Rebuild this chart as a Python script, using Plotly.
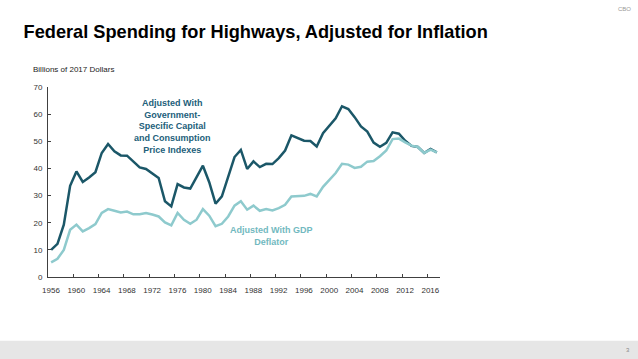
import plotly.graph_objects as go

years = list(range(1956, 2018))
gov_specific = [10.0, 12.2, 19.3, 33.6, 38.9, 35.0, 36.7, 38.6, 45.7, 49.0,
                46.3, 44.8, 44.7, 42.6, 40.4, 39.8, 38.3, 36.5, 27.9, 26.0,
                34.2, 33.0, 32.6, 36.8, 41.0, 34.9, 27.0, 29.7, 36.7, 44.2,
                46.8, 39.8, 42.6, 40.5, 41.7, 41.6, 43.8, 46.6, 52.2, 51.2,
                50.2, 50.1, 48.1, 53.0, 55.7, 58.5, 62.9, 61.9, 58.9, 55.5,
                53.6, 49.5, 48.0, 49.4, 53.3, 52.8, 50.2, 48.3, 47.9, 45.7,
                47.2, 45.9]
gdp_deflator = [5.4, 6.7, 10.0, 17.4, 19.3, 16.8, 18.0, 19.5, 23.6, 25.0,
                24.4, 23.8, 24.1, 23.1, 23.1, 23.6, 23.0, 22.3, 20.1, 19.0,
                23.6, 21.1, 19.6, 21.1, 25.0, 22.6, 18.7, 19.6, 22.3, 26.3,
                27.9, 24.8, 26.3, 24.4, 25.0, 24.5, 25.4, 26.6, 29.7, 29.7,
                29.9, 30.6, 29.7, 33.2, 35.6, 38.3, 41.7, 41.4, 40.2, 40.6,
                42.5, 42.7, 44.5, 46.6, 50.8, 51.0, 49.6, 48.4, 47.9, 45.7,
                46.9, 45.9]
tick_years = list(range(1956, 2017, 4))
y_ticks = [0, 10, 20, 30, 40, 50, 60, 70]

DARK = "#1b5768"
LIGHT = "#8ecacd"
FONT = "Liberation Sans, Arial, sans-serif"

W, H = 638, 359
L, R, T, B = 48, 197.5, 87.3, 81.7
pw, ph = W - L - R, H - T - B

def px_x(px):
    return (px - L) / pw

def px_y(py):
    return (H - B - py) / ph

fig = go.Figure()
fig.add_trace(go.Scatter(x=years, y=gov_specific, mode="lines",
                         line=dict(color=DARK, width=2.5), hoverinfo="skip"))
fig.add_trace(go.Scatter(x=years, y=gdp_deflator, mode="lines",
                         line=dict(color=LIGHT, width=2.5), hoverinfo="skip"))

fig.update_layout(
    width=W, height=H, autosize=False,
    margin=dict(l=L, r=R, t=T, b=B, pad=0),
    paper_bgcolor="white", plot_bgcolor="white",
    showlegend=False,
    font=dict(family=FONT, color="#333333"),
    title=dict(text="<b>Federal Spending for Highways, Adjusted for Inflation</b>",
               x=23.6 / W, xanchor="left", xref="container",
               y=1 - 32 / H, yanchor="middle", yref="container",
               font=dict(family=FONT, size=18.2, color="black")),
    xaxis=dict(range=[1955.5, 2017.5], tickmode="array",
               tickvals=[y - 0.5 for y in tick_years],
               ticktext=[str(y) for y in tick_years],
               ticks="inside", ticklen=3, tickcolor="#404040",
               showline=True, linecolor="#404040", linewidth=1,
               showgrid=False, zeroline=False,
               ticklabelshift=3, ticklabelstandoff=5,
               tickfont=dict(family=FONT, size=8, color="#333333")),
    yaxis=dict(range=[0, 70], tickmode="array", tickvals=y_ticks,
               ticks="inside", ticklen=3, tickcolor="#404040",
               showline=True, linecolor="#404040", linewidth=1,
               showgrid=False, zeroline=False, ticklabelstandoff=3,
               tickfont=dict(family=FONT, size=8, color="#333333")),
)

fig.add_annotation(text="Billions of 2017 Dollars", xref="paper", yref="paper",
                   x=px_x(30.5), y=px_y(70), xanchor="left", yanchor="middle",
                   showarrow=False, font=dict(family=FONT, size=8, color="#222222"))
fig.add_annotation(text="<b>Adjusted With<br>Government-<br>Specific Capital<br>and Consumption<br>Price Indexes</b>",
                   xref="paper", yref="paper", x=px_x(173), y=px_y(126.5),
                   xanchor="center", yanchor="middle", showarrow=False, align="center",
                   font=dict(family=FONT, size=9, color="#22607a"))
fig.add_annotation(text="<b>Adjusted With GDP<br>Deflator</b>",
                   xref="paper", yref="paper", x=px_x(271.7), y=px_y(235.8),
                   xanchor="center", yanchor="middle", showarrow=False, align="center",
                   font=dict(family=FONT, size=9, color="#72b9c0"))
fig.add_annotation(text="CBO", xref="paper", yref="paper",
                   x=px_x(634), y=px_y(9), xanchor="right", yanchor="middle",
                   showarrow=False, font=dict(family=FONT, size=6, color="#999999"))
fig.add_annotation(text="3", xref="paper", yref="paper",
                   x=px_x(633), y=px_y(350.5), xanchor="right", yanchor="middle",
                   showarrow=False, font=dict(family=FONT, size=6, color="#888888"))

fig.add_shape(type="rect", xref="paper", yref="paper", layer="below",
              x0=px_x(-2), x1=px_x(W + 2), y0=px_y(341), y1=px_y(H + 2),
              fillcolor="#e6e6e6", line=dict(width=0))

fig.write_html("out.html", config={"displayModeBar": False},
               post_script="document.body.style.margin='0';document.body.style.overflow='hidden';")
